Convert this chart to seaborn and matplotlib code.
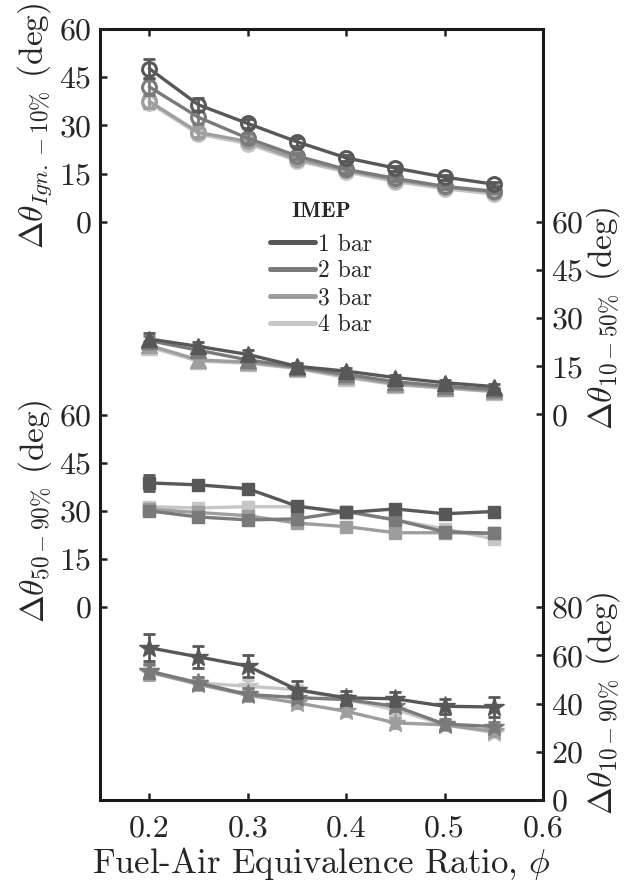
import matplotlib
matplotlib.use("Agg")
import matplotlib.pyplot as plt
from matplotlib.lines import Line2D
import numpy as np
import pandas as pd
import seaborn as sns

# ---------------- data ----------------
phi = [0.20, 0.25, 0.30, 0.35, 0.40, 0.45, 0.50, 0.55]
imep = ["1 bar", "2 bar", "3 bar", "4 bar"]

# Delta theta Ign.-10%
ign10_1 = [47.7, 36.4, 30.6, 24.9, 19.9, 16.7, 13.9, 11.7]
ign10_2 = [42.0, 32.5, 26.0, 20.5, 16.3, 13.5, 11.0, 9.5]
ign10_3 = [37.5, 27.8, 25.0, 19.5, 16.0, 13.0, 10.8, 9.2]
ign10_4 = [37.0, 27.3, 24.3, 19.0, 15.5, 12.5, 10.3, 8.6]
ign10_err = [[3.0, 2.0, 1.5, 1.2, 1.0, 0.8, 0.8, 0.8],
             [2.5, 2.0, 1.5, 1.0, 1.0, 0.8, 0.8, 0.7],
             [2.0, 1.5, 1.2, 1.0, 0.8, 0.7, 0.7, 0.6],
             [2.0, 1.5, 1.2, 1.0, 0.8, 0.7, 0.7, 0.6]]

# Delta theta 10-50%
b1050_1 = [23.5, 21.2, 18.7, 15.0, 13.5, 11.5, 9.9, 8.7]
b1050_2 = [23.0, 20.0, 17.0, 14.8, 12.5, 10.2, 8.8, 7.8]
b1050_3 = [21.5, 17.0, 16.3, 14.5, 12.0, 9.5, 8.4, 7.3]
b1050_4 = [21.0, 16.6, 16.0, 14.3, 11.5, 9.3, 8.2, 7.1]
b1050_err = [[2.0, 1.5, 1.5, 1.0, 1.0, 0.8, 0.8, 0.8],
             [1.5, 1.2, 1.0, 0.8, 0.8, 0.7, 0.7, 0.6],
             [1.5, 1.2, 1.0, 0.8, 0.8, 0.7, 0.7, 0.6],
             [1.5, 1.2, 1.0, 0.8, 0.8, 0.7, 0.7, 0.6]]

# Delta theta 50-90%
b5090_1 = [38.7, 38.1, 36.9, 31.5, 29.5, 30.6, 29.1, 29.8]
b5090_2 = [30.0, 28.1, 27.2, 27.5, 29.8, 27.2, 23.5, 23.0]
b5090_3 = [30.5, 29.5, 28.5, 26.2, 25.1, 23.2, 23.2, 23.0]
b5090_4 = [31.3, 30.9, 31.3, 31.3, 29.8, 27.2, 24.4, 21.3]
b5090_err = [[2.5, 1.5, 1.5, 1.0, 1.0, 1.0, 1.0, 1.0],
             [1.5, 1.2, 1.2, 1.0, 1.0, 1.0, 1.0, 1.0],
             [1.5, 1.2, 1.2, 1.0, 1.0, 1.0, 1.0, 1.0],
             [1.5, 1.2, 1.2, 1.0, 1.0, 1.0, 1.0, 1.0]]

# Delta theta 10-90%
b1090_1 = [63.2, 59.4, 55.6, 45.8, 42.4, 42.0, 38.9, 38.6]
b1090_2 = [53.5, 48.6, 43.8, 42.5, 41.7, 38.9, 31.5, 30.5]
b1090_3 = [53.0, 48.0, 43.5, 40.3, 36.8, 32.0, 31.2, 28.5]
b1090_4 = [53.5, 48.6, 47.2, 45.8, 41.7, 37.5, 31.2, 28.0]
b1090_err = [[5.5, 4.5, 4.5, 3.5, 3.0, 3.0, 3.0, 4.3],
             [3.0, 2.5, 2.5, 2.0, 2.0, 2.0, 2.0, 2.0],
             [3.0, 2.5, 2.5, 2.0, 2.0, 2.0, 2.0, 2.0],
             [3.0, 2.5, 2.5, 2.0, 2.0, 2.0, 2.0, 2.0]]

x_ticks = [0.2, 0.3, 0.4, 0.5, 0.6]
x_ticklabels = ["0.2", "0.3", "0.4", "0.5", "0.6"]

# ---------------- style ----------------
sns.set_theme(style="white")
plt.rcParams["font.family"] = ["cmr10", "DejaVu Serif"]
plt.rcParams["mathtext.fontset"] = "cm"
plt.rcParams["axes.formatter.use_mathtext"] = True
plt.rcParams["axes.unicode_minus"] = False

colors = {"1 bar": "#585858", "2 bar": "#7a7a7a", "3 bar": "#9e9e9e", "4 bar": "#c6c6c6"}

panels = [
    dict(series=[ign10_1, ign10_2, ign10_3, ign10_4], err=ign10_err, ylim=(0, 60),
         ticks=[0, 15, 30, 45, 60], side="left", marker="o", ms=10, open=True,
         label=r"$\Delta\theta_{Ign.-10\%}$ (deg)"),
    dict(series=[b1050_1, b1050_2, b1050_3, b1050_4], err=b1050_err, ylim=(0, 60),
         ticks=[0, 15, 30, 45, 60], side="right", marker="^", ms=12, open=False,
         label=r"$\Delta\theta_{10-50\%}$ (deg)"),
    dict(series=[b5090_1, b5090_2, b5090_3, b5090_4], err=b5090_err, ylim=(0, 60),
         ticks=[0, 15, 30, 45, 60], side="left", marker="s", ms=8.5, open=False,
         label=r"$\Delta\theta_{50-90\%}$ (deg)"),
    dict(series=[b1090_1, b1090_2, b1090_3, b1090_4], err=b1090_err, ylim=(0, 80),
         ticks=[0, 20, 40, 60, 80], side="right", marker="*", ms=15, open=False,
         label=r"$\Delta\theta_{10-90\%}$ (deg)"),
]

W_px, H_px = 627, 890
fig = plt.figure(figsize=(W_px / 100, H_px / 100), dpi=100)
L, R, T, Bt = 100, 543, 29, 800
fl, fb = L / W_px, 1 - Bt / H_px
fw, fh = (R - L) / W_px, (Bt - T) / H_px

tick_fs = 23
label_fs = 24

frame = fig.add_axes([fl, fb, fw, fh])
frame.set_xlim(0.15, 0.6)
frame.set_ylim(0, 1)
frame.set_yticks([])
frame.set_xticks(x_ticks, x_ticklabels)
frame.tick_params(axis="x", direction="in", top=True, bottom=True, length=5, width=1.8,
                  labelsize=tick_fs, pad=11, color="#222222")
for s in frame.spines.values():
    s.set_linewidth(2.2)
    s.set_color("#1a1a1a")
frame.set_xlabel(r"Fuel-Air Equivalence Ratio, $\phi$", fontsize=25, labelpad=2)

for i, p in enumerate(panels):
    ax = fig.add_axes([fl, fb + (3 - i) * fh / 4, fw, fh / 4], sharex=frame)
    ax.patch.set_alpha(0)
    for s in ax.spines.values():
        s.set_visible(False)
    ax.set_ylim(*p["ylim"])
    ax.set_yticks(p["ticks"])
    ax.tick_params(axis="x", which="both", bottom=False, top=False, labelbottom=False)
    if p["side"] == "right":
        ax.yaxis.tick_right()
        ax.tick_params(axis="y", direction="in", left=False, right=True, length=5,
                       width=1.8, labelsize=tick_fs, pad=6, color="#222222")
    else:
        ax.tick_params(axis="y", direction="in", left=True, right=False, length=5,
                       width=1.8, labelsize=tick_fs, pad=6, color="#222222")

    rows = []
    for name, vals in zip(imep, p["series"]):
        for xv, yv in zip(phi, vals):
            rows.append({"phi": xv, "val": yv, "IMEP": name})
    df = pd.DataFrame(rows)

    order = imep[::-1]
    for k, name in enumerate(order):
        idx = imep.index(name)
        ax.errorbar(phi, p["series"][idx], yerr=p["err"][idx], fmt="none",
                    ecolor=colors[name], elinewidth=2, capsize=4, capthick=2,
                    zorder=2 + k * 2, clip_on=False)
        sub = df[df["IMEP"] == name]
        sns.lineplot(data=sub, x="phi", y="val", color=colors[name], marker=p["marker"],
                     markersize=p["ms"], linewidth=2.4, estimator=None, sort=False,
                     legend=False, ax=ax, zorder=3 + k * 2, clip_on=False)
        line = ax.lines[-1]
        line.set_markeredgecolor(colors[name])
        if p["open"]:
            line.set_markerfacecolor("none")
            line.set_markeredgewidth(2.2)
        else:
            line.set_markerfacecolor(colors[name])
            line.set_markeredgewidth(1)
    ax.set_xlabel("")
    ax.set_ylabel(p["label"], fontsize=label_fs)
    if p["side"] == "right":
        ax.yaxis.set_label_position("right")
        ax.yaxis.set_label_coords((603 - L) / (R - L), 0.5)
        ax.yaxis.label.set_rotation(90)
    else:
        ax.yaxis.set_label_coords((35 - L) / (R - L), 0.5)
    ax.yaxis.label.set_va("center")
    ax.yaxis.label.set_ha("center")

handles = [Line2D([], [], color=colors[n], lw=3.6) for n in imep]
leg = fig.legend(handles, imep, title="IMEP", loc="upper left",
                 bbox_to_anchor=(270 / W_px, 1 - 202 / H_px), frameon=False,
                 fontsize=17, handlelength=1.9, handletextpad=0.12, labelspacing=0.2,
                 borderpad=0, borderaxespad=0)
leg.get_title().set_fontfamily("cmb10")
leg.get_title().set_fontsize(16)
leg._legend_box.sep = 9

fig.savefig("out.png", dpi=100)
